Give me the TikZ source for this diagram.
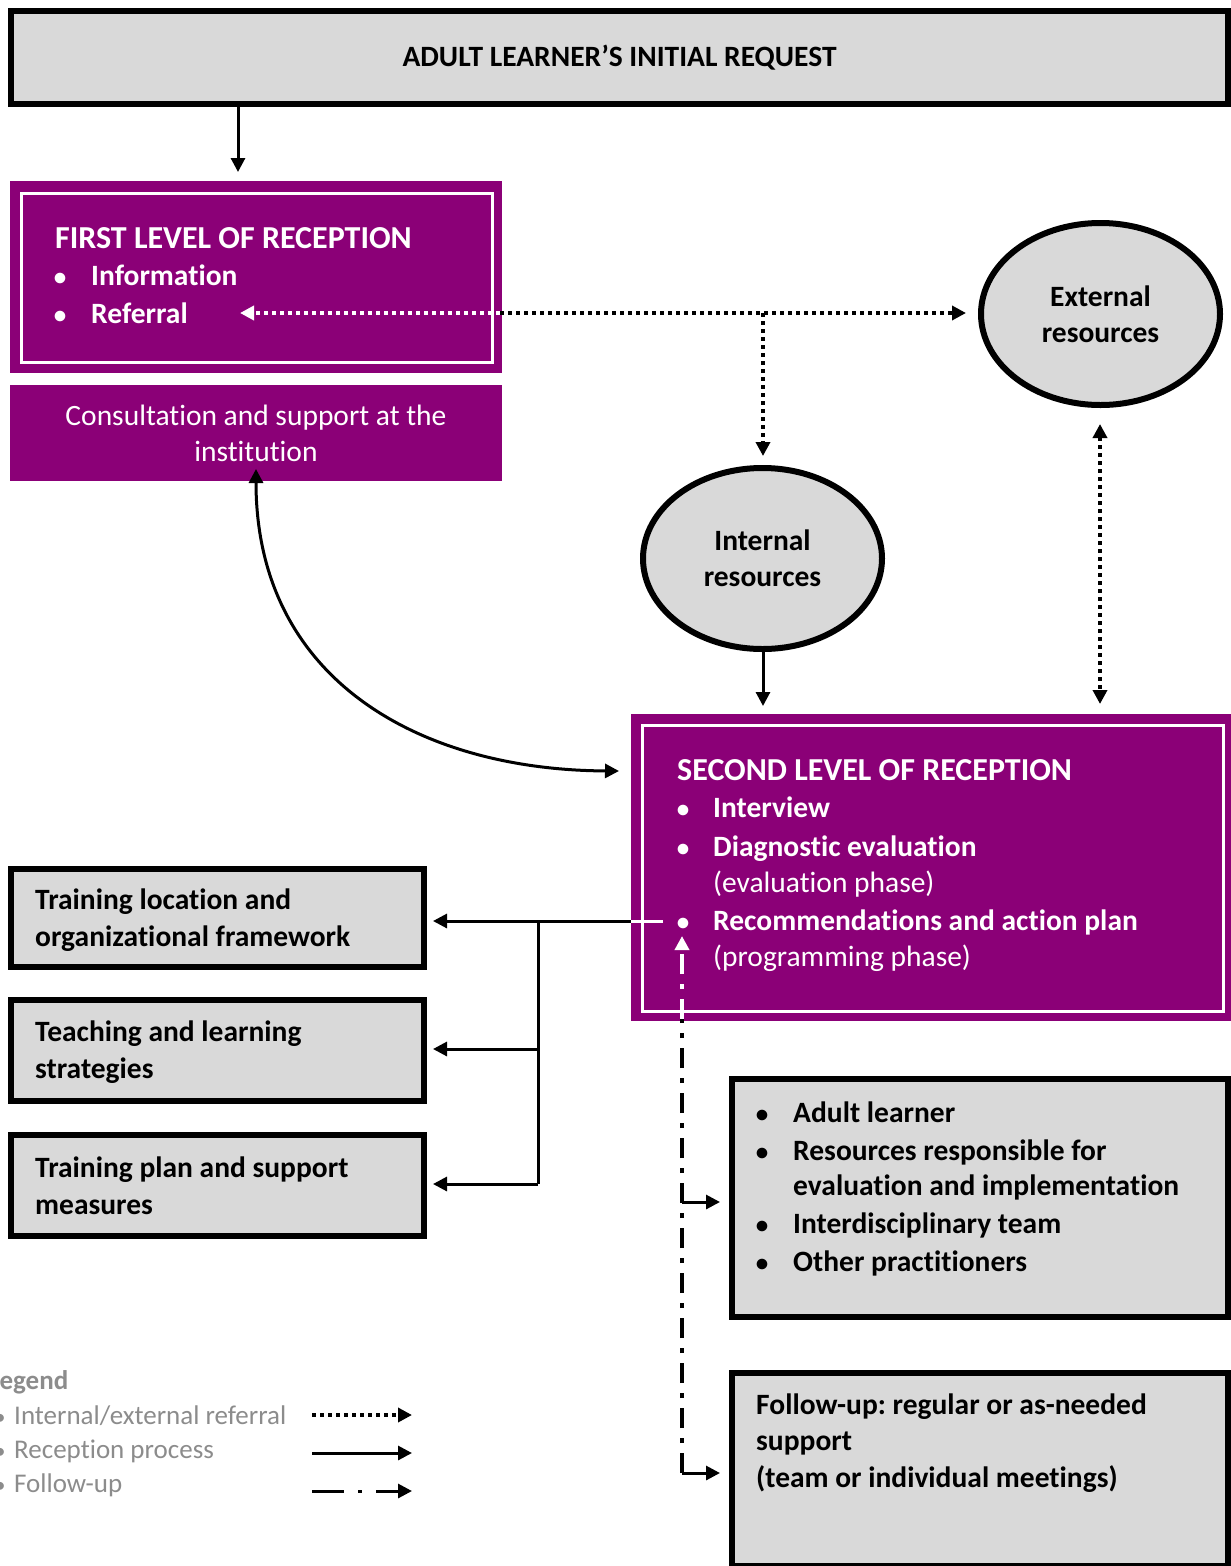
\documentclass[tikz,border=0pt]{standalone}
\usepackage{fontspec}
\setmainfont{Carlito}[Ligatures={NoCommon}]
\usetikzlibrary{arrows.meta,shapes.geometric}
\definecolor{pur}{HTML}{8B0077}
\definecolor{boxgray}{HTML}{D9D9D9}
\definecolor{leggray}{HTML}{8C8C8C}
\frenchspacing
\begin{document}
\begin{tikzpicture}[x=1pt,y=-1pt,
  graybox/.style={draw=black,line width=6pt,fill=boxgray,inner sep=0,rectangle},
  purbox/.style={fill=pur,inner sep=0,rectangle},
  wframe/.style={draw=white,line width=3pt,inner sep=0,rectangle},
  oval/.style={ellipse,draw=black,line width=6pt,fill=boxgray,inner sep=0,align=center,font=\fontsize{29.5}{36}\selectfont\bfseries},
  txt/.style={inner sep=0,anchor=base west,font=\fontsize{29.5}{36}\selectfont\bfseries},
  htxt/.style={inner sep=0,anchor=base west,font=\fontsize{32}{36}\selectfont\bfseries},
  rtxt/.style={inner sep=0,anchor=base west,font=\fontsize{29.5}{36}\selectfont},
  bul/.style={inner sep=0,anchor=base,font=\fontsize{25}{36}\selectfont\bfseries},
  wt/.style={text=white},
  ltxt/.style={inner sep=0,anchor=base west,font=\fontsize{27}{34}\selectfont,text=leggray},
  tip/.style={-{Triangle[length=14pt,width=14pt]}},
  solidln/.style={line width=3pt,draw=black},
  dotln/.style={line width=3.5pt,dash pattern=on 4pt off 4pt},
  dashdot/.style={line width=3.5pt,dash pattern=on 20pt off 10pt on 5pt off 10pt},
]
\useasboundingbox (0,0) rectangle (1231,1566);
\fill[white] (0,0) rectangle (1231,1566);

% top box
\node[graybox,minimum width=1217pt,minimum height=93pt,font=\fontsize{29.5}{30}\selectfont\bfseries] (top) at (619.5,57.5) {ADULT LEARNER’S INITIAL REQUEST};

% first level
\node[purbox,minimum width=492pt,minimum height=192pt] (first) at (256,277) {};
\node[wframe,minimum width=471pt,minimum height=169pt] (firstf) at (256.5,277.5) {};
\node[htxt,wt] (firstt) at (55,248) {FIRST LEVEL OF RECEPTION};
\node[bul,wt] (fb1) at (60,285) {•};
\node[txt,wt] (fi1) at (91,285) {Information};
\node[bul,wt] (fb2) at (60,323) {•};
\node[txt,wt] (fi2) at (91,323) {Referral};

% consultation
\node[purbox,minimum width=492pt,minimum height=96pt,text=white,align=center,font=\fontsize{29.5}{36}\selectfont] (cons) at (256,433) {Consultation and support at the\\institution};

% ellipses
\node[oval,minimum width=239pt,minimum height=182pt] (ext) at (1100.5,314) {External\\resources};
\node[oval,minimum width=239pt,minimum height=181pt] (int) at (762.5,558.5) {Internal\\resources};

% second level
\node[purbox,minimum width=600pt,minimum height=307pt] (second) at (931,867.5) {};
\node[wframe,minimum width=581pt,minimum height=286pt] (secondf) at (932.5,868) {};
\node[htxt,wt] (st) at (677,780) {SECOND LEVEL OF RECEPTION};
\node[bul,wt] (sb1) at (683,817) {•};
\node[txt,wt] (si1) at (713,817) {Interview};
\node[bul,wt] (sb2) at (683,856) {•};
\node[txt,wt] (si2) at (713,856) {Diagnostic evaluation};
\node[rtxt,wt] (si2b) at (713,892) {(evaluation phase)};
\node[bul,wt] (sb3) at (683,930) {•};
\node[txt,wt] (si3) at (713,930) {Recommendations and action plan};
\node[rtxt,wt] (si3b) at (713,966) {(programming phase)};

% left boxes
\node[graybox,minimum width=413pt,minimum height=98pt] (l1) at (217.5,918) {};
\node[txt] (l1a) at (35,909) {Training location and};
\node[txt] (l1b) at (35,946) {organizational framework};
\node[graybox,minimum width=413pt,minimum height=101pt] (l2) at (217.5,1050.5) {};
\node[txt] (l2a) at (35,1041) {Teaching and learning};
\node[txt] (l2b) at (35,1078) {strategies};
\node[graybox,minimum width=413pt,minimum height=101pt] (l3) at (217.5,1185.5) {};
\node[txt] (l3a) at (35,1177) {Training plan and support};
\node[txt] (l3b) at (35,1214) {measures};

% right boxes
\node[graybox,minimum width=496pt,minimum height=238pt] (r1) at (980,1198) {};
\node[bul] (rb1) at (762,1122) {•};
\node[txt] (ri1) at (793,1122) {Adult learner};
\node[bul] (rb2) at (762,1160) {•};
\node[txt] (ri2) at (793,1160) {Resources responsible for};
\node[txt] (ri2b) at (793,1195) {evaluation and implementation};
\node[bul] (rb3) at (762,1233) {•};
\node[txt] (ri3) at (793,1233) {Interdisciplinary team};
\node[bul] (rb4) at (762,1271) {•};
\node[txt] (ri4) at (793,1271) {Other practitioners};

\node[graybox,minimum width=496pt,minimum height=193pt] (r2) at (980,1469.5) {};
\node[txt] (r2a) at (756,1414) {Follow-up: regular or as-needed};
\node[txt] (r2b) at (756,1450) {support};
\node[txt] (r2c) at (756,1487) {(team or individual meetings)};

% coordinates
\coordinate (topA) at (238,107);
\coordinate (topB) at (238,172);
\coordinate (refL) at (240,313);
\coordinate (refE) at (500,313);
\coordinate (refJ) at (763,313);
\coordinate (refR) at (966,313);
\coordinate (intT) at (763,456);
\coordinate (extB) at (1100,424);
\coordinate (secT2) at (1100,704);
\coordinate (intB) at (763,652);
\coordinate (secT) at (763,706);
\coordinate (consB) at (256,469);
\coordinate (secL) at (619,771);
\coordinate (recS) at (663,921);
\coordinate (recE) at (631,921);
\coordinate (branch) at (538,921);
\coordinate (b2) at (538,1049);
\coordinate (b3) at (538,1184);
\coordinate (fuTop) at (682,936);
\coordinate (fuEdge) at (682,1019);
\coordinate (fu1) at (682,1202);
\coordinate (fu2) at (682,1473);

% connectors
\draw[solidln,tip] (topA) -- (topB);
\draw[dotln,white,tip] (refE) -- (refL);
\draw[dotln,tip] (refE) -- (refR);
\draw[dotln,tip] (refJ) -- (intT);
\draw[dotln,{Triangle[length=14pt,width=14pt]}-{Triangle[length=14pt,width=14pt]}] (extB) -- (secT2);
\draw[solidln,tip] (intB) -- (secT);
\draw[solidln,{Triangle[length=14pt,width=14pt]}-{Triangle[length=14pt,width=14pt]}] (consB) .. controls (256,680) and (420,770) .. (secL);
\draw[solidln,white] (recS) -- (recE);
\draw[solidln,tip] (recE) -- (433,921);
\draw[solidln] (branch) -- (b3);
\draw[solidln,tip] (b2) -- (433,1049);
\draw[solidln,tip] (b3) -- (433,1184);
\draw[dashdot,white,tip] (fuEdge) -- (fuTop);
\draw[dashdot] (fu2) -- (fuEdge);
\draw[solidln,tip] (fu1) -- (720,1202);
\draw[solidln,tip] (fu2) -- (720,1473);

% legend
\node[inner sep=0,anchor=base west,font=\fontsize{27}{34}\selectfont\bfseries,text=leggray] (leg) at (-12,1389) {Legend};
\node[ltxt,anchor=base,font=\fontsize{22}{34}\selectfont] (lb1) at (0,1424) {•};
\node[ltxt] (lt1) at (14,1424) {Internal/external referral};
\node[ltxt,anchor=base,font=\fontsize{22}{34}\selectfont] (lb2) at (0,1458) {•};
\node[ltxt] (lt2) at (14,1458) {Reception process};
\node[ltxt,anchor=base,font=\fontsize{22}{34}\selectfont] (lb3) at (0,1492) {•};
\node[ltxt] (lt3) at (14,1492) {Follow-up};
\coordinate (la1) at (312,1415);
\coordinate (la1e) at (412,1415);
\coordinate (la2) at (312,1453);
\coordinate (la2e) at (412,1453);
\coordinate (la3) at (312,1491);
\coordinate (la3e) at (412,1491);
\draw[dotln,tip] (la1) -- (la1e);
\draw[solidln,tip] (la2) -- (la2e);
\draw[line width=3pt,dash pattern=on 32pt off 14pt on 4pt off 14pt,tip] (la3) -- (la3e);
\end{tikzpicture}
\end{document}
